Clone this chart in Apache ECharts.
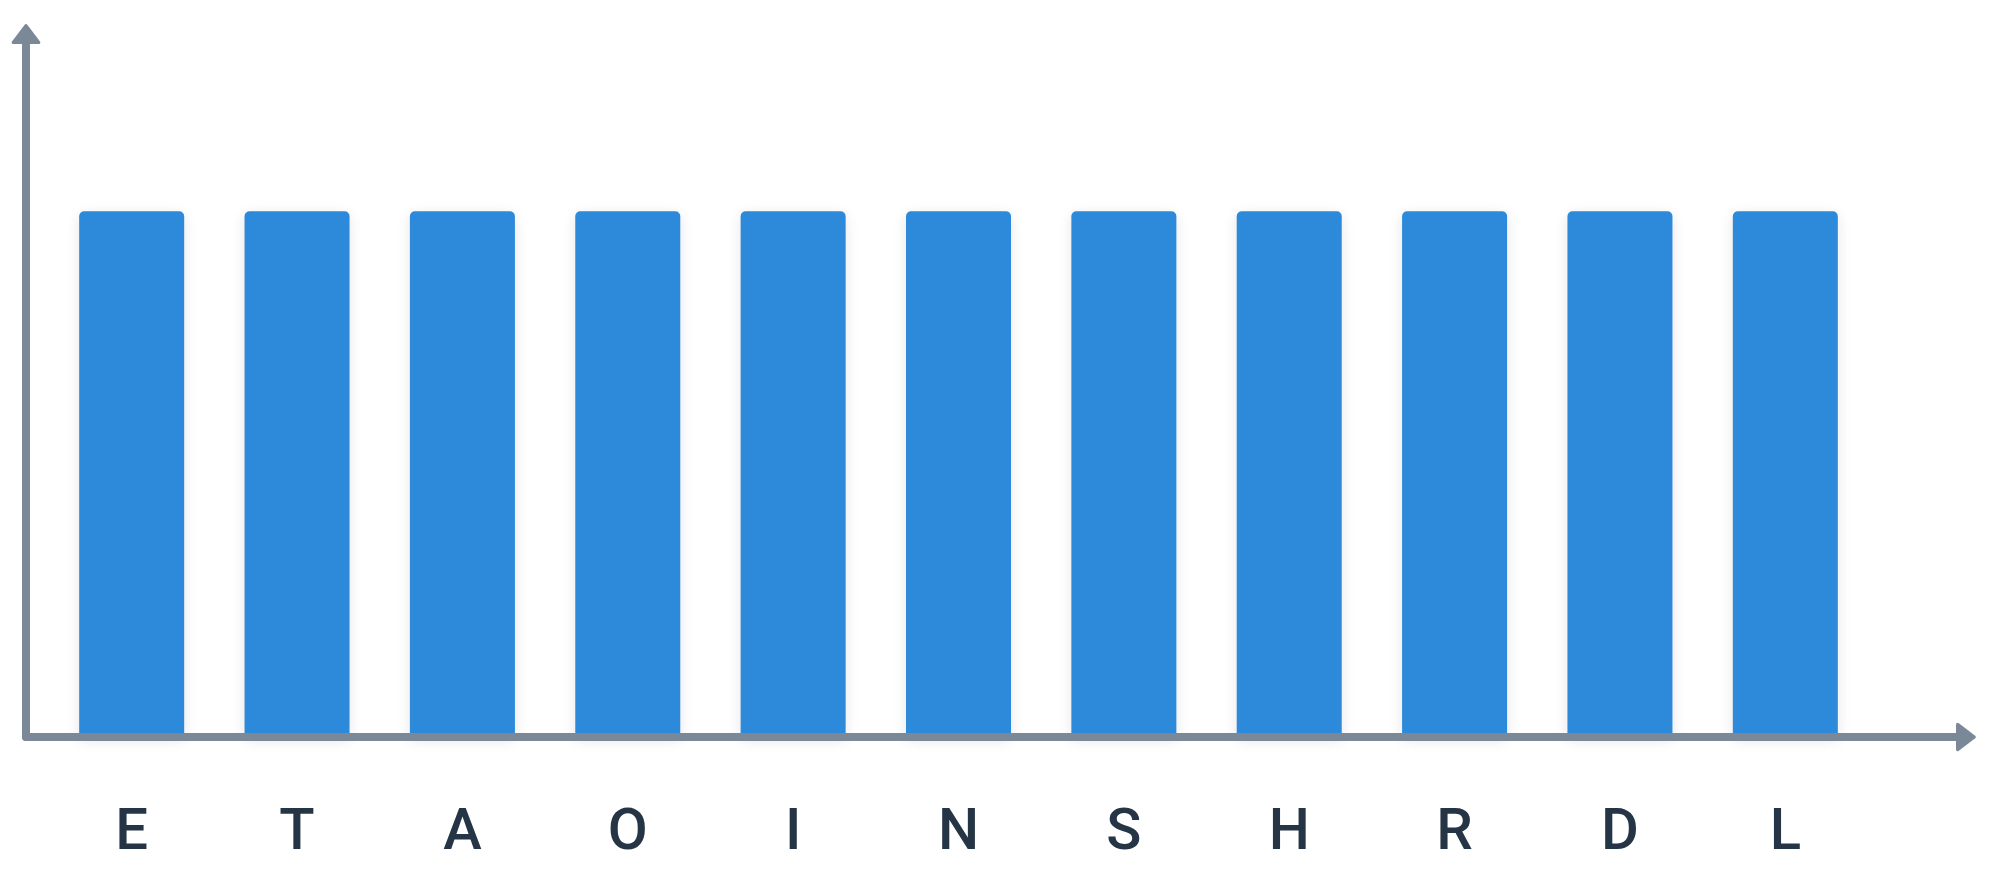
<!DOCTYPE html>
<html><head><meta charset="utf-8">
<script src="https://cdn.jsdelivr.net/npm/echarts@6/dist/echarts.min.js"></script>
<style>html,body{margin:0;padding:0;background:#fff}#c{width:2000px;height:886px}</style>
</head><body><div id="c"></div>
<script>
const categories = ['E','T','A','O','I','N','S','H','R','D','L'];
const values = [75,75,75,75,75,75,75,75,75,75,75];
const yMax = 100;

const axisColor = '#7B8898';
const arrowPath = 'path://M66,5 Q72.5,-3 79,5 L141,86 Q149,100 132,100 L13,100 Q-4,100 4,86 Z';
const chart = echarts.init(document.getElementById('c'));
chart.setOption({
  animation: false,
  backgroundColor: '#ffffff',
  grid: [
    {left: 26, right: 34, top: 36, bottom: 149},
    {left: 49, right: 132, top: 36, bottom: 149}
  ],
  xAxis: [
    {gridIndex: 0, type: 'value', min: 0, max: 1, z: 5,
     axisLine: {show: true, symbol: ['none', arrowPath], symbolSize: [29, 20], symbolOffset: [0, 0],
       lineStyle: {color: axisColor, width: 8, cap: 'round'}},
     axisTick: {show: false}, axisLabel: {show: false}, splitLine: {show: false}},
    {gridIndex: 1, type: 'category', data: categories,
     axisLine: {show: false}, axisTick: {show: false}, splitLine: {show: false},
     axisLabel: {margin: 68, fontSize: 58, fontFamily: 'Roboto', fontWeight: 500, color: '#263545'}}
  ],
  yAxis: [
    {gridIndex: 0, type: 'value', min: 0, max: yMax, z: 5,
     axisLine: {show: true, symbol: ['none', arrowPath], symbolSize: [29, 20], symbolOffset: [0, 2],
       lineStyle: {color: axisColor, width: 8, cap: 'round'}},
     axisTick: {show: false}, axisLabel: {show: false}, splitLine: {show: false}},
    {gridIndex: 1, type: 'value', min: 0, max: yMax, show: false, splitLine: {show: false}}
  ],
  series: [{
    type: 'bar', xAxisIndex: 1, yAxisIndex: 1, data: values, barWidth: 105,
    itemStyle: {color: '#2D89D9', borderRadius: [5,5,0,0],
      shadowBlur: 14, shadowColor: 'rgba(0,0,0,0.10)', shadowOffsetY: 3}
  }]
});
</script></body></html>
